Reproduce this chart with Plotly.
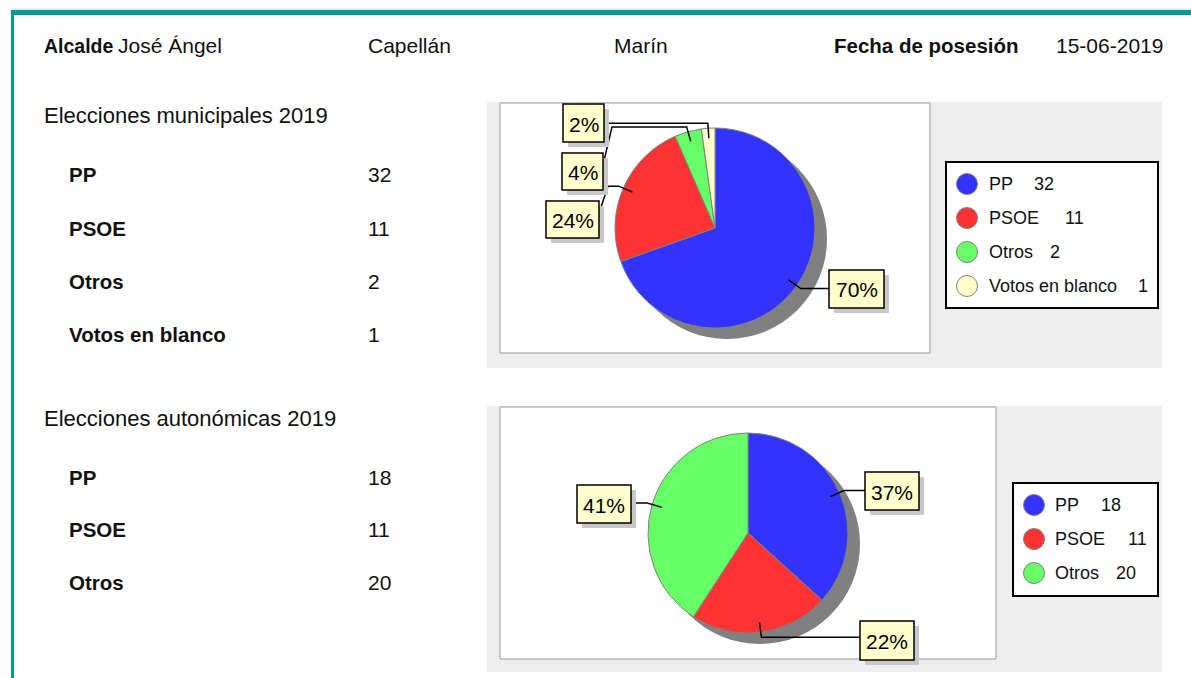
import math
import plotly.graph_objects as go

W, H = 1191, 678

# ---------------- data ----------------
alcalde_nombre = "José Ángel"
alcalde_apellido1 = "Capellán"
alcalde_apellido2 = "Marín"
fecha_posesion = "15-06-2019"

titulo_mun = "Elecciones municipales 2019"
partidos_mun = ["PP", "PSOE", "Otros", "Votos en blanco"]
votos_mun = [32, 11, 2, 1]

titulo_aut = "Elecciones autonómicas 2019"
partidos_aut = ["PP", "PSOE", "Otros"]
votos_aut = [18, 11, 20]

colores = {"PP": "#3333ff", "PSOE": "#ff3333", "Otros": "#66ff66", "Votos en blanco": "#ffffcc"}

FONT = "Liberation Sans, Arial, Helvetica, sans-serif"


def px(x):
    return x / W


def py(y):
    return 1 - y / H


shapes = []
annotations = []


def rect(x0, y0, x1, y1, fill, line=None, lw=0, layer="below"):
    shapes.append(dict(type="rect", xref="paper", yref="paper",
                       x0=px(x0), x1=px(x1), y0=py(y1), y1=py(y0),
                       fillcolor=fill, line=dict(color=line or fill, width=lw), layer=layer))


def circle(cx, cy, r, fill, line, lw=1, layer="below"):
    shapes.append(dict(type="circle", xref="paper", yref="paper",
                       x0=px(cx - r), x1=px(cx + r), y0=py(cy + r), y1=py(cy - r),
                       fillcolor=fill, line=dict(color=line, width=lw), layer=layer))


def text(x, y, s, size=21, bold=False, anchor="left", color="#111111"):
    # compensate the annotation's default 2px inner padding
    if anchor == "left":
        x -= 2
    elif anchor == "right":
        x += 2
    annotations.append(dict(xref="paper", yref="paper", x=px(x), y=py(y), text=s,
                            showarrow=False, xanchor=anchor, yanchor="middle",
                            font=dict(family=FONT, size=size, color=color,
                                      weight="bold" if bold else "normal")))


# ---------------- frame ----------------
rect(11, 8.5, W, 9.5, "#d4dbe6")
rect(11, 10, W, 15, "#009b98")
rect(11, 10, 14, H, "#009b98")

# ---------------- header ----------------
text(44, 46, "Alcalde", bold=True, size=19.5)
text(118, 46, alcalde_nombre)
text(368, 46, alcalde_apellido1)
text(614, 46, alcalde_apellido2)
text(834, 46, "Fecha de posesión", bold=True, size=20.5)
text(1163, 46, fecha_posesion, anchor="right")


# ---------------- tables ----------------
def table(title, title_y, parties, votes, row_y0, row_dy):
    text(44, title_y, title, size=22)
    for i, (p, v) in enumerate(zip(parties, votes)):
        y = row_y0 + i * row_dy
        text(69, y, p, bold=True, size=20.5)
        text(368, y, str(v))


table(titulo_mun, 116, partidos_mun, votos_mun, 175, 53.3)
table(titulo_aut, 418, partidos_aut, votos_aut, 477, 52.5)


# ---------------- pie blocks ----------------
def pie_block(parties, votes, panel, box, center, r, labels, legend, fig):
    rect(*panel, "#eeeeee")
    rect(*box, "#ffffff", "#999999", 1)
    cx, cy = center
    circle(cx + 12, cy + 11, r, "#808080", "#808080", 0)
    fig.add_trace(go.Pie(
        values=votes, labels=parties, sort=False, direction="clockwise", rotation=0,
        marker=dict(colors=[colores[p] for p in parties], line=dict(color="#808080", width=1)),
        textinfo="none", hoverinfo="label+value+percent", showlegend=False,
        domain=dict(x=[px(cx - r), px(cx + r)], y=[py(cy + r), py(cy - r)]),
    ))
    total = sum(votes)
    cum = 0
    for v, (bx0, by0, bx1, by1) in zip(votes, labels):
        mid = (cum + v / 2) / total * 2 * math.pi
        cum += v
        s, c = math.sin(mid), math.cos(mid)
        ax, ay = cx + 0.9 * r * s, cy - 0.9 * r * c
        ex, ey = cx + 1.05 * r * s, cy - 1.05 * r * c
        if bx0 > cx:
            edge_x, near_x = bx0, bx0 - 8
        else:
            edge_x, near_x = bx1, bx1 + 9
        ty = min(max(ey, by0 + 12), by1 - 12)
        if abs(ty - ey) < 0.5:
            path = f"M {px(ax)},{py(ay)} L {px(ex)},{py(ey)} L {px(edge_x)},{py(ey)}"
        else:
            path = (f"M {px(ax)},{py(ay)} L {px(ex)},{py(ey)} L {px(near_x)},{py(ey)} "
                    f"L {px(edge_x)},{py(ty)}")
        shapes.append(dict(type="path", xref="paper", yref="paper", path=path,
                           line=dict(color="#000000", width=1.5), layer="above"))
        rect(bx0 + 5, by0 + 5, bx1 + 5, by1 + 5, "#c8c8c8", layer="above")
        rect(bx0, by0, bx1, by1, "#ffffcc", "#000000", 1.5, layer="above")
        pct = round(v / total * 100)
        text((bx0 + bx1) / 2, (by0 + by1) / 2 + 1, f"{pct}%", size=21, anchor="center",
             color="#000000")
    (lx0, ly0, lx1, ly1), ccx, rows_y, tx, val_x = legend
    rect(lx0, ly0, lx1, ly1, "#ffffff", "#000000", 2)
    for p, v, y, vx in zip(parties, votes, rows_y, val_x):
        circle(ccx, y, 10.5, colores[p], "#808080", 1)
        text(tx, y, p, size=18)
        text(vx, y, str(v), size=18)


fig = go.Figure()

pie_block(partidos_mun, votos_mun,
          panel=(487, 102, 1162, 368), box=(500, 103, 930, 353),
          center=(715, 228), r=100,
          labels=[(829, 270, 884, 308), (546, 201, 599, 238),
                  (562, 153, 603, 190), (563, 104, 604, 142)],
          legend=((946, 162, 1158, 308), 967, [184, 218, 252, 286], 989,
                  [1034, 1065, 1050, 1138]),
          fig=fig)

pie_block(partidos_aut, votos_aut,
          panel=(487, 406, 1162, 672), box=(500, 407, 996, 659),
          center=(748, 533), r=100,
          labels=[(865, 472, 919, 510), (860, 621, 914, 660), (577, 485, 631, 523)],
          legend=((1013, 483, 1158, 596), 1034, [505, 539, 573], 1055,
                  [1101, 1128, 1116]),
          fig=fig)

fig.update_layout(
    width=W, height=H, margin=dict(l=0, r=0, t=0, b=0),
    paper_bgcolor="#ffffff", plot_bgcolor="#ffffff",
    shapes=shapes, annotations=annotations,
    xaxis=dict(visible=False), yaxis=dict(visible=False),
)

fig.write_html("out.html", config={"displayModeBar": False},
               post_script="document.body.style.margin='0';document.body.style.overflow='hidden';")
